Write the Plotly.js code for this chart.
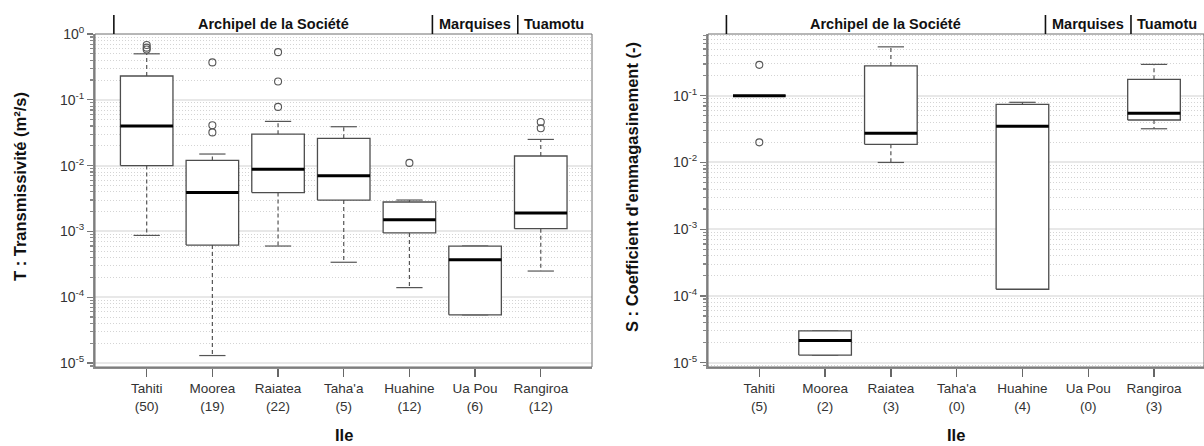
<!DOCTYPE html>
<html><head><meta charset="utf-8">
<script src="https://cdn.plot.ly/plotly-3.0.1.min.js"></script>
<style>html,body{margin:0;padding:0;background:#fff}</style>
</head><body><div id="chart" style="width:1204px;height:446px"></div>
<script>
// ---------- data ----------
const islands = ['Tahiti', 'Moorea', 'Raiatea', "Taha'a", 'Huahine', 'Ua Pou', 'Rangiroa'];
const countT = [50, 19, 22, 5, 12, 6, 12];
const countS = [5, 2, 3, 0, 4, 0, 3];

// Transmissivity T (m2/s) box statistics
const tLow  = [8.7e-4, 1.3e-5, 6.0e-4, 3.4e-4, 1.4e-4, 5.4e-5, 2.5e-4];
const tQ1   = [0.010, 6.2e-4, 3.9e-3, 3.0e-3, 9.5e-4, 5.4e-5, 1.1e-3];
const tMed  = [0.040, 3.9e-3, 8.8e-3, 7.0e-3, 1.5e-3, 3.7e-4, 1.9e-3];
const tQ3   = [0.23, 0.012, 0.030, 0.026, 2.8e-3, 6.0e-4, 0.014];
const tHigh = [0.50, 0.015, 0.047, 0.039, 3.0e-3, 6.0e-4, 0.025];
const tOutIsland = ['Tahiti', 'Tahiti', 'Tahiti', 'Moorea', 'Moorea', 'Moorea', 'Raiatea', 'Raiatea', 'Raiatea', 'Huahine', 'Rangiroa', 'Rangiroa'];
const tOutVal    = [0.68, 0.62, 0.58, 0.37, 0.041, 0.032, 0.53, 0.19, 0.078, 0.011, 0.046, 0.037];

// Storage coefficient S (-) box statistics
const sLow  = [0.1, 1.3e-5, 0.010, null, 1.26e-4, null, 0.032];
const sQ1   = [0.1, 1.3e-5, 0.0187, null, 1.26e-4, null, 0.0433];
const sMed  = [0.1, 2.15e-5, 0.0274, null, 0.0348, null, 0.0545];
const sQ3   = [0.1, 3.0e-5, 0.28, null, 0.0742, null, 0.176];
const sHigh = [0.1, 3.0e-5, 0.54, null, 0.0797, null, 0.295];
const sOutIsland = ['Tahiti', 'Tahiti'];
const sOutVal    = [0.29, 0.02];

const groupNames = ['Archipel de la Société', 'Marquises', 'Tuamotu'];
const groupBreaks = [-0.5, 4.35, 5.65];
const groupCenters = [1.925, 5.0, 6.2];

// ---------- style ----------
const FONT = 'Liberation Sans, Arial, sans-serif';
const BOXW = 0.4, CAPW = 0.2;
const boxColor = '#4d4d4d';

function panelTraces(low, q1, med, q3, high, outIsl, outVal, xa, ya) {
  const bx = [], by = [], wx = [], wy = [], cx = [], cy = [], mx = [], my = [];
  islands.forEach((_, i) => {
    if (med[i] === null) return;
    bx.push(i - BOXW, i + BOXW, i + BOXW, i - BOXW, i - BOXW, null);
    by.push(q1[i], q1[i], q3[i], q3[i], q1[i], null);
    wx.push(i, i, null, i, i, null);
    wy.push(q3[i], high[i], null, q1[i], low[i], null);
    cx.push(i - CAPW, i + CAPW, null, i - CAPW, i + CAPW, null);
    cy.push(high[i], high[i], null, low[i], low[i], null);
    mx.push(i - BOXW, i + BOXW, null);
    my.push(med[i], med[i], null);
  });
  const common = {xaxis: xa, yaxis: ya, hoverinfo: 'skip', showlegend: false};
  return [
    Object.assign({type: 'scatter', mode: 'lines', x: wx, y: wy, line: {color: '#555', width: 1.2, dash: '4px,3px'}}, common),
    Object.assign({type: 'scatter', mode: 'lines', x: cx, y: cy, line: {color: '#555', width: 1.2}}, common),
    Object.assign({type: 'scatter', mode: 'lines', x: bx, y: by, fill: 'toself', fillcolor: '#ffffff', line: {color: boxColor, width: 1.3}}, common),
    Object.assign({type: 'scatter', mode: 'lines', x: mx, y: my, line: {color: '#000', width: 3}}, common),
    Object.assign({type: 'scatter', mode: 'markers', x: outIsl.map(n => islands.indexOf(n)), y: outVal,
      marker: {symbol: 'circle-open', size: 7, color: '#555', line: {width: 1.1}}}, common)
  ];
}

const data = [].concat(
  panelTraces(tLow, tQ1, tMed, tQ3, tHigh, tOutIsland, tOutVal, 'x', 'y'),
  panelTraces(sLow, sQ1, sMed, sQ3, sHigh, sOutIsland, sOutVal, 'x2', 'y2')
);

// ticks
const decades = [1e-5, 1e-4, 1e-3, 1e-2, 1e-1, 1];
const decadeText = ['10<sup>-5</sup>', '10<sup>-4</sup>', '10<sup>-3</sup>', '10<sup>-2</sup>', '10<sup>-1</sup>', '10<sup>0</sup>'];
const minorVals = [];
[-6, -5, -4, -3, -2, -1, 0].forEach(e => { for (let d = 2; d <= 9; d++) minorVals.push(d * Math.pow(10, e)); });

const W = 1204, H = 446;
const py = v => 1 - v / H;
const plotTop = 34, plotBot = 367;
const panels = [
  {x0: 95, x1: 592, range: [-0.787, 6.78], yr: [-5.06, 0.0], counts: countT, title: '<b>T : Transmissivité (m²/s)</b>', tx: 20},
  {x0: 708, x1: 1204, range: [-0.78, 6.76], yr: [-5.065, -0.075], counts: countS, title: "<b>S : Coefficient d'emmagasinement (-)</b>", tx: 632}
];

const layout = {
  width: W, height: H, margin: {l: 0, r: 0, t: 0, b: 0},
  paper_bgcolor: '#fff', plot_bgcolor: '#fff',
  font: {family: FONT, color: '#333'},
  shapes: [], annotations: []
};

panels.forEach((p, k) => {
  const sfx = k === 0 ? '' : '2';
  layout['xaxis' + sfx] = {
    domain: [p.x0 / W, p.x1 / W], range: p.range, anchor: 'y' + sfx,
    tickmode: 'array', tickvals: islands.map((_, i) => i),
    ticktext: islands.map((n, i) => n + '<br>(' + p.counts[i] + ')'),
    ticks: 'outside', ticklen: 8, tickwidth: 1.3, tickcolor: '#666',
    showline: true, linecolor: '#8c8c8c', linewidth: 2,
    showgrid: false, zeroline: false,
    tickfont: {family: FONT, size: 13.5, color: '#333'}, fixedrange: true
  };
  layout['yaxis' + sfx] = {
    domain: [py(plotBot), py(plotTop)], type: 'log', range: p.yr, anchor: 'x' + sfx,
    tickmode: 'array', tickvals: decades, ticktext: decadeText,
    ticks: 'outside', ticklen: 6, tickwidth: 1.3, tickcolor: '#777',
    showline: true, linecolor: '#8c8c8c', linewidth: 2,
    showgrid: true, gridcolor: '#e8e8e8', gridwidth: 2, zeroline: false,
    minor: {tickmode: 'array', tickvals: minorVals, ticks: 'outside', ticklen: 3, tickcolor: '#888',
            showgrid: true, gridcolor: '#d4d4d4', griddash: '1px,2px', gridwidth: 1},
    tickfont: {family: FONT, size: 14, color: '#333'}, fixedrange: true
  };
  // frame
  layout.shapes.push({type: 'rect', xref: 'paper', yref: 'paper', x0: p.x0 / W, x1: p.x1 / W, y0: py(plotBot), y1: py(plotTop),
    line: {color: '#6e6e6e', width: 1}, layer: 'above'});
  // group header separators
  groupBreaks.forEach(b => layout.shapes.push({type: 'line', xref: 'x' + sfx, yref: 'paper', x0: b, x1: b, y0: py(plotTop), y1: py(15),
    line: {color: '#111', width: 1.6}}));
  groupNames.forEach((g, j) => layout.annotations.push({xref: 'x' + sfx, yref: 'paper', x: groupCenters[j], y: py(24),
    text: '<b>' + g + '</b>', showarrow: false, font: {family: FONT, size: 14.5, color: '#111'}, xanchor: 'center', yanchor: 'middle'}));
  // axis titles
  layout.annotations.push({xref: 'paper', yref: 'paper', x: p.tx / W, y: py(187), text: p.title, textangle: -90,
    showarrow: false, font: {family: FONT, size: 16.5, color: '#111'}, xanchor: 'center', yanchor: 'middle'});
  layout.annotations.push({xref: 'paper', yref: 'paper', x: ((p.x0 + p.x1) / 2) / W, y: 0, text: '<b>Ile</b>',
    showarrow: false, font: {family: FONT, size: 16.5, color: '#111'}, xanchor: 'center', yanchor: 'bottom'});
});

Plotly.newPlot('chart', data, layout, {staticPlot: true, displayModeBar: false});
</script>
</body></html>
